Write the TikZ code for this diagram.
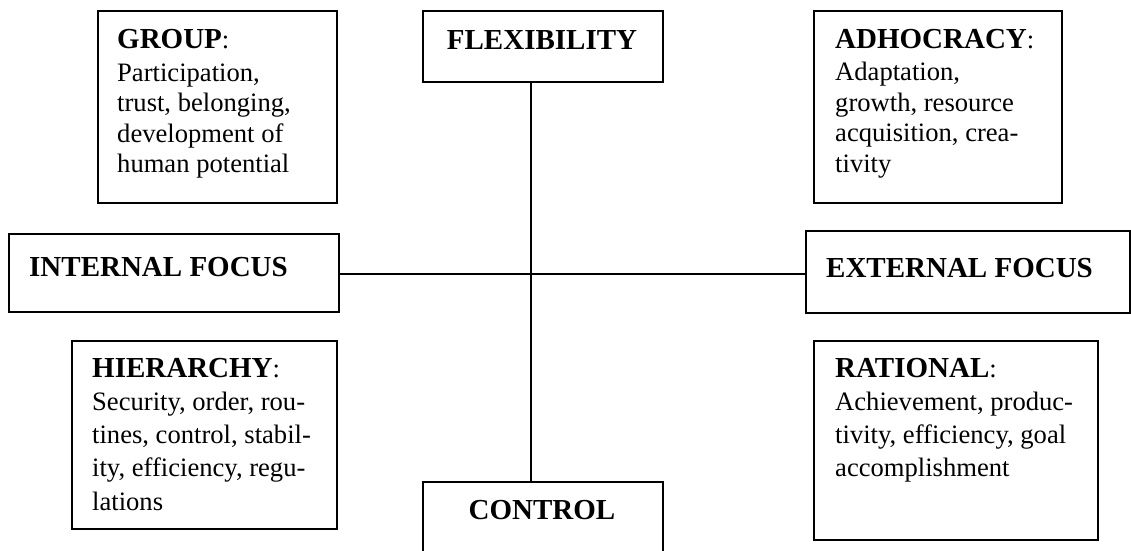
\documentclass[tikz,border=0pt]{standalone}
\usepackage{fontspec}
\setmainfont{Liberation Serif}
\newcommand{\bodyfont}{\fontsize{26.6}{30.5}\selectfont}
\newcommand{\headfont}{\fontsize{29}{30.5}\selectfont\bfseries}
\begin{document}
\begin{tikzpicture}[x=1pt,y=-1pt,
  box/.style={draw=black, line width=1.7pt, rectangle, inner sep=0pt, anchor=north west},
  axis/.style={draw=black, line width=1.6pt},
  lbl/.style={anchor=base west, inner sep=0pt, font=\headfont},
  body/.style={anchor=base west, inner sep=0pt}]
\useasboundingbox (0,0) rectangle (1131,550);
% boxes
\node[box, minimum width=239pt, minimum height=192pt] (group) at (97,10) {};
\node[box, minimum width=240pt, minimum height=71pt] (flex) at (422,10) {};
\node[box, minimum width=248pt, minimum height=192pt] (adhoc) at (813,10) {};
\node[box, minimum width=330pt, minimum height=78pt] (int) at (8,233) {};
\node[box, minimum width=324pt, minimum height=82pt] (ext) at (805,230) {};
\node[box, minimum width=265pt, minimum height=188pt] (hier) at (71,340) {};
\node[box, minimum width=240pt, minimum height=75pt] (control) at (422,481) {};
\node[box, minimum width=284pt, minimum height=199pt] (rational) at (813,340) {};
% axes
\coordinate (c) at (531,274);
\draw[axis] (flex.south -| c) -- (control.north -| c);
\draw[axis] (int.east |- c) -- (ext.west |- c);
% labels
\node[lbl, anchor=base] (flextext) at (542,49) {FLEXIBILITY};
\node[lbl, anchor=base] (controltext) at (542,519) {CONTROL};
\node[lbl] (inttext) at (29,276) {INTERNAL FOCUS};
\node[lbl] (exttext) at (826,277) {EXTERNAL FOCUS};
% quadrant texts
\node[body] (grouptext) at (117,48) {\parbox[t]{215pt}{\bodyfont{\headfont GROUP}:\\[2.5pt]
Participation,\\ trust, belonging,\\ development of\\ human potential}};
\node[body] (adhoctext) at (835,48) {\parbox[t]{220pt}{\bodyfont{\headfont ADHOCRACY}:\\[2pt]
Adaptation,\\ growth, resource\\ acquisition, crea-\\ tivity}};
\node[body] (hiertext) at (92,377) {\parbox[t]{240pt}{\fontsize{26.6}{33.3}\selectfont{\headfont HIERARCHY}:\\
Security, order, rou-\\ tines, control, stabil-\\ ity, efficiency, regu-\\ lations}};
\node[body] (rationaltext) at (835,377) {\parbox[t]{255pt}{\fontsize{26.6}{33}\selectfont{\headfont RATIONAL}:\\
Achievement, produc-\\ tivity, efficiency, goal\\ accomplishment}};
\end{tikzpicture}
\end{document}
